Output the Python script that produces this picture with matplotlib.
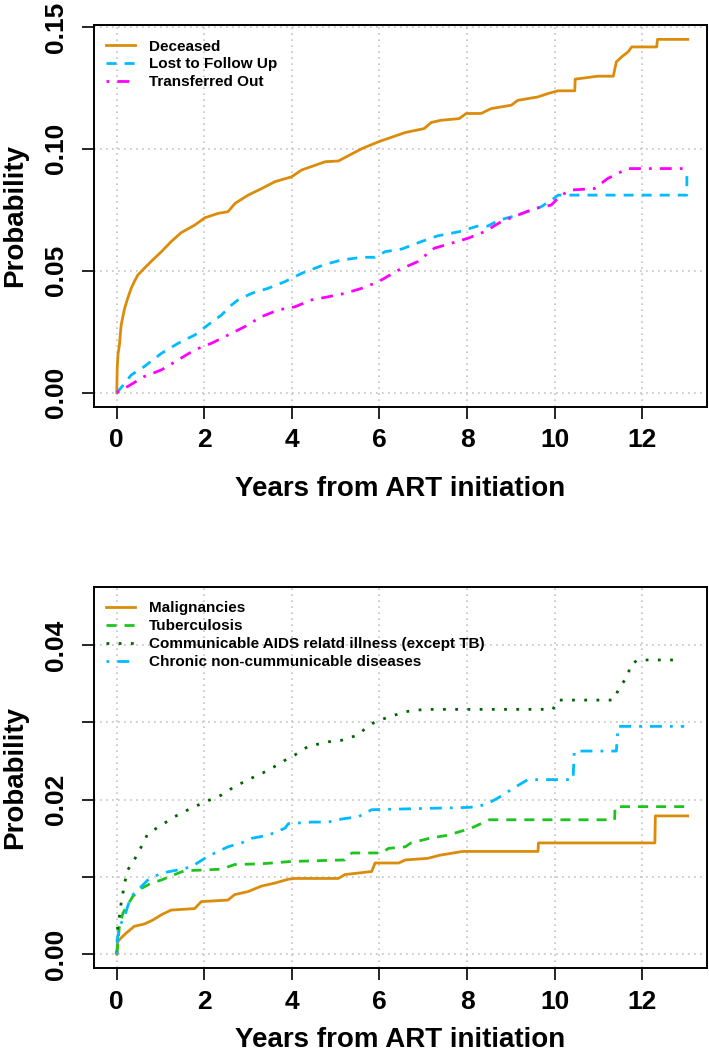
"""Cumulative incidence of outcomes after ART initiation (two panels)."""

import matplotlib
matplotlib.use("Agg")
from matplotlib import pyplot as plt
from matplotlib.ticker import FixedLocator, FixedFormatter

# ---- top panel: outcomes ----
deceased_t = [0, 0.01, 0.03, 0.06, 0.10, 0.18, 0.25, 0.33, 0.40, 0.48, 0.63, 0.82,
              1.02, 1.24, 1.47, 1.78, 2.01, 2.31, 2.54, 2.70, 3.00, 3.31, 3.61,
              3.99, 4.22, 4.76, 5.06, 5.60, 5.98, 6.59, 7.02, 7.18, 7.40, 7.82,
              7.98, 8.32, 8.55, 9.01, 9.16, 9.62, 9.85, 10.08, 10.46, 10.47,
              10.99, 11.34, 11.41, 11.53, 11.68, 11.76, 12.33, 12.35, 13.04]
deceased_p = [0, 0.010, 0.016, 0.0195, 0.0277, 0.0346, 0.0387, 0.0428, 0.0455,
              0.0482, 0.0510, 0.0544, 0.0578, 0.0619, 0.0656, 0.0687, 0.0717,
              0.0735, 0.0742, 0.0776, 0.0810, 0.0837, 0.0865, 0.0885, 0.0913,
              0.0947, 0.0950, 0.1001, 0.1029, 0.1067, 0.1083, 0.1108, 0.1117,
              0.1124, 0.1145, 0.1145, 0.1165, 0.1179, 0.1199, 0.1213, 0.1227,
              0.1238, 0.1238, 0.1286, 0.1298, 0.1298, 0.1357, 0.1377, 0.1398,
              0.1418, 0.1418, 0.1449, 0.1449]

ltfu_t = [0, 0.10, 0.33, 0.63, 1.02, 1.40, 1.78, 2.08, 2.39, 2.62, 2.77, 3.08,
          3.46, 3.84, 4.22, 4.76, 5.14, 5.60, 5.90, 6.13, 6.51, 6.95, 7.33,
          7.82, 8.24, 8.47, 8.74, 9.16, 9.69, 9.98, 10.08, 13.02, 13.02]
ltfu_p = [0, 0.0020, 0.0072, 0.0107, 0.0161, 0.0202, 0.0236, 0.0277, 0.0318,
          0.0359, 0.0380, 0.0407, 0.0428, 0.0455, 0.0489, 0.0526, 0.0544,
          0.0555, 0.0555, 0.0578, 0.0589, 0.0619, 0.0643, 0.0660, 0.0683,
          0.0683, 0.0708, 0.0728, 0.0762, 0.0796, 0.0810, 0.0810, 0.0892]

transfer_t = [0, 0.25, 0.63, 1.02, 1.40, 1.78, 2.16, 2.54, 2.92, 3.30, 3.69,
              4.07, 4.45, 4.83, 5.21, 5.60, 5.98, 6.44, 6.87, 7.25, 7.63, 8.02,
              8.40, 8.78, 9.16, 9.54, 9.92, 10.15, 10.38, 10.91, 11.21, 11.52,
              11.68, 13.04]
transfer_p = [0, 0.0025, 0.0066, 0.0093, 0.0134, 0.0175, 0.0202, 0.0236, 0.0270,
              0.0311, 0.0339, 0.0352, 0.0380, 0.0393, 0.0407, 0.0428, 0.0455,
              0.0503, 0.0537, 0.0592, 0.0612, 0.0633, 0.0660, 0.0701, 0.0728,
              0.0755, 0.0769, 0.0810, 0.0831, 0.0837, 0.0878, 0.0906, 0.0919,
              0.0919]

# ---- bottom panel: causes of death ----
malig_t = [0, 0.02, 0.10, 0.21, 0.40, 0.63, 0.82, 1.02, 1.24, 1.78, 1.93, 2.54,
           2.69, 3.00, 3.30, 3.61, 3.92, 4.07, 5.06, 5.21, 5.82, 5.90, 6.44,
           6.59, 7.10, 7.37, 7.90, 9.62, 9.63, 12.29, 12.30, 13.04]
malig_p = [0, 0.0016, 0.0021, 0.0027, 0.0036, 0.0039, 0.0044, 0.0051, 0.0057,
           0.0059, 0.0068, 0.0070, 0.0077, 0.0081, 0.0088, 0.0092, 0.0097,
           0.0098, 0.0098, 0.0103, 0.0107, 0.0118, 0.0118, 0.0122, 0.0124,
           0.0128, 0.0133, 0.0133, 0.0144, 0.0144, 0.0179, 0.0179]

tb_t = [0, 0.06, 0.14, 0.25, 0.37, 0.56, 0.79, 1.02, 1.32, 1.55, 2.01, 2.39,
        2.69, 3.31, 3.99, 5.21, 5.37, 6.05, 6.21, 6.59, 6.72, 7.14, 7.56, 8.09,
        8.51, 11.37, 11.38, 12.96]
tb_p = [0, 0.0036, 0.0053, 0.0064, 0.0075, 0.0085, 0.0092, 0.0096, 0.0103,
        0.0108, 0.0109, 0.0110, 0.0116, 0.0117, 0.0120, 0.0122, 0.0131, 0.0131,
        0.0137, 0.0139, 0.0144, 0.0150, 0.0154, 0.0163, 0.0174, 0.0174, 0.0191,
        0.0191]

aids_t = [0, 0.02, 0.06, 0.10, 0.18, 0.25, 0.40, 0.56, 0.71, 1.02, 1.32, 1.63,
          2.01, 2.39, 2.69, 3.08, 3.46, 3.84, 4.07, 4.37, 4.83, 5.14, 5.52,
          5.67, 5.90, 6.21, 6.59, 7.02, 9.96, 10.08, 11.34, 11.49, 11.68,
          11.72, 11.90, 12.90]
aids_p = [0, 0.0036, 0.0049, 0.0066, 0.0092, 0.0109, 0.0122, 0.0139, 0.0156,
          0.0167, 0.0178, 0.0187, 0.0197, 0.0206, 0.0217, 0.0228, 0.0238,
          0.0251, 0.0258, 0.0269, 0.0275, 0.0277, 0.0284, 0.0292, 0.0301,
          0.0307, 0.0314, 0.0317, 0.0317, 0.0329, 0.0329, 0.0346, 0.0361,
          0.0374, 0.0381, 0.0381]

chronic_t = [0, 0.02, 0.10, 0.18, 0.25, 0.33, 0.48, 0.71, 1.02, 1.40, 1.70,
             2.01, 2.24, 2.54, 2.85, 3.08, 3.46, 3.84, 3.92, 4.45, 4.83, 5.14,
             5.52, 5.82, 8.02, 8.24, 8.47, 8.70, 9.12, 9.39, 10.42, 10.45,
             11.41, 11.45, 12.96]
chronic_p = [0, 0.0023, 0.0040, 0.0049, 0.0062, 0.0075, 0.0083, 0.0096, 0.0105,
             0.0109, 0.0113, 0.0124, 0.0131, 0.0139, 0.0144, 0.0150, 0.0154,
             0.0163, 0.0169, 0.0171, 0.0171, 0.0175, 0.0178, 0.0187, 0.0190,
             0.0191, 0.0195, 0.0202, 0.0217, 0.0226, 0.0226, 0.0263, 0.0263,
             0.0295, 0.0295]

top_labels = ["Deceased", "Lost to Follow Up", "Transferred Out"]
bottom_labels = ["Malignancies", "Tuberculosis",
                 "Communicable AIDS relatd illness (except TB)",
                 "Chronic non-cummunicable diseases"]

ORANGE = "#DB8C0B"
BLUE = "#00BBFF"
MAGENTA = "#FF00FF"
GREEN = "#1EC41E"
DKGREEN = "#006400"

SOLID = "-"
DASHED = (0, (3.6, 2.9))
DOTTED = (0, (1.0, 3.4))
DOTDASH = (0, (1.0, 2.9, 4.3, 2.9))

plt.rcParams["font.family"] = ["Liberation Sans", "DejaVu Sans"]
plt.rcParams["font.weight"] = "bold"

fig = plt.figure(figsize=(7.09, 10.56), dpi=100)
ax1 = fig.add_axes([94 / 709, 1 - 406.7 / 1056, 613 / 709, 381.7 / 1056])
ax2 = fig.add_axes([94 / 709, 1 - 968 / 1056, 613 / 709, 381 / 1056])


def style_axes(ax, yticks, ylabels, ylim, xlabelpad):
    ax.set_xlim(-0.52, 13.48)
    ax.set_ylim(*ylim)
    ax.set_xticks(range(0, 13, 2))
    ax.yaxis.set_major_locator(FixedLocator(yticks))
    ax.yaxis.set_major_formatter(FixedFormatter(ylabels))
    ax.grid(True, color="#C4C4C4", linestyle=(0, (1, 2.6)), linewidth=1.2)
    ax.set_axisbelow(True)
    ax.tick_params(axis="both", direction="out", length=8.5, width=1.2,
                   labelsize=19)
    ax.tick_params(axis="x", pad=7)
    ax.tick_params(axis="y", pad=10)
    for lab in ax.get_yticklabels():
        lab.set_rotation(90)
        lab.set_va("center")
        lab.set_fontweight("bold")
    for lab in ax.get_xticklabels():
        lab.set_fontweight("bold")
    for sp in ax.spines.values():
        sp.set_linewidth(1.4)
    ax.set_xlabel("Years from ART initiation", fontsize=20, fontweight="bold",
                  labelpad=xlabelpad)
    ax.set_ylabel("Probability", fontsize=20, fontweight="bold", va="center")
    ax.yaxis.set_label_coords(-0.128, 0.5)


# top panel
ax1.plot(deceased_t, deceased_p, color=ORANGE, linestyle=SOLID, lw=2,
         label=top_labels[0])
ax1.plot(ltfu_t, ltfu_p, color=BLUE, linestyle=DASHED, lw=2,
         label=top_labels[1])
ax1.plot(transfer_t, transfer_p, color=MAGENTA, linestyle=DOTDASH, lw=2,
         label=top_labels[2])
style_axes(ax1, [0, 0.05, 0.10, 0.15], ["0.00", "0.05", "0.10", "0.15"],
           (-0.0058, 0.1508), 17)

# bottom panel
ax2.plot(malig_t, malig_p, color=ORANGE, linestyle=SOLID, lw=2,
         label=bottom_labels[0])
ax2.plot(tb_t, tb_p, color=GREEN, linestyle=DASHED, lw=2,
         label=bottom_labels[1])
ax2.plot(aids_t, aids_p, color=DKGREEN, linestyle=DOTTED, lw=2,
         label=bottom_labels[2])
ax2.plot(chronic_t, chronic_p, color=BLUE, linestyle=DOTDASH, lw=2,
         label=bottom_labels[3])
# keep the bottom axis title fully inside the canvas
style_axes(ax2, [0, 0.01, 0.02, 0.03, 0.04], ["0.00", "", "0.02", "", "0.04"],
           (-0.0018, 0.04755), 10)

for ax in (ax1, ax2):
    ax.legend(loc="upper left", bbox_to_anchor=(0.02, 0.962), frameon=False,
              borderaxespad=0, borderpad=0, handlelength=1.9,
              handletextpad=0.9, labelspacing=0.25,
              prop={"weight": "bold", "size": 11})

fig.savefig("out.png", dpi=100)
